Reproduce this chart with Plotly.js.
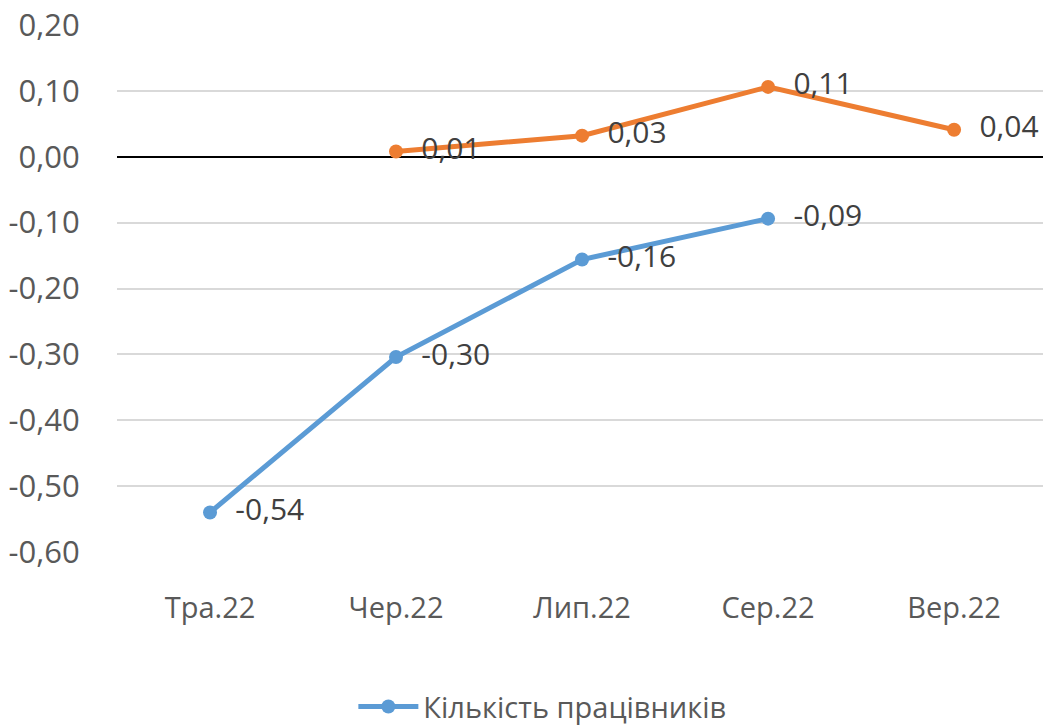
<!DOCTYPE html>
<html>
<head>
<meta charset="utf-8">
<script src="https://cdn.plot.ly/plotly-3.0.1.min.js"></script>
<style>html,body{margin:0;padding:0;background:#fff;}#chart{width:1043px;height:727px;}</style>
</head>
<body>
<div id="chart"></div>
<script>
const categories = ["Тра.22", "Чер.22", "Лип.22", "Сер.22", "Вер.22"];
const blueName = "Кількість працівників";
const blueX = ["Тра.22", "Чер.22", "Лип.22", "Сер.22"];
const blueY = [-0.54, -0.304, -0.156, -0.094];
const orangeX = ["Чер.22", "Лип.22", "Сер.22", "Вер.22"];
const orangeY = [0.008, 0.032, 0.106, 0.041];
const yTicks = [0.2, 0.1, 0, -0.1, -0.2, -0.3, -0.4, -0.5, -0.6];

const fmt = v => v.toFixed(2).replace(".", ",").replace("-0,00", "0,00");
const FONT = "Open Sans, Noto Sans, sans-serif";
const NB = "\u00a0\u00a0";
const traces = [
  {
    x: blueX, y: blueY, name: blueName, type: "scatter", mode: "lines+markers+text",
    line: {color: "#5B9BD5", width: 5}, marker: {color: "#5B9BD5", size: 14},
    text: blueY.map(v => NB + fmt(v)), textposition: "middle right",
    textfont: {family: FONT, size: 30, color: "#404040"}, cliponaxis: false
  },
  {
    x: orangeX, y: orangeY, name: "Серія 2", type: "scatter", mode: "lines+markers+text",
    line: {color: "#ED7D31", width: 5}, marker: {color: "#ED7D31", size: 14},
    text: orangeY.map(v => NB + fmt(v)), textposition: "middle right",
    textfont: {family: FONT, size: 30, color: "#404040"}, cliponaxis: false,
    showlegend: false
  }
];
const layout = {
  width: 1043, height: 727,
  separators: ", ",
  margin: {l: 117, r: 0, t: 25, b: 175},
  paper_bgcolor: "#fff", plot_bgcolor: "#fff",
  font: {family: FONT, color: "#595959", size: 29},
  xaxis: {
    type: "category", categoryorder: "array", categoryarray: categories,
    range: [-0.5, 4.478], showgrid: false, showline: false, zeroline: false,
    ticks: "outside", ticklen: 30, tickcolor: "rgba(0,0,0,0)",
    tickfont: {family: FONT, size: 29, color: "#595959"}
  },
  yaxis: {
    range: [-0.6, 0.2], tickvals: yTicks, ticktext: yTicks.map(fmt),
    showgrid: true, gridcolor: "#d9d9d9", gridwidth: 2,
    zeroline: true, zerolinecolor: "#000", zerolinewidth: 2,
    showline: false, ticks: "outside", ticklen: 30, tickcolor: "rgba(0,0,0,0)",
    tickfont: {family: FONT, size: 31, color: "#595959"}
  },
  showlegend: true,
  legend: {
    orientation: "h", xref: "container", yref: "container",
    x: 0.52, xanchor: "center", y: 0.028, yanchor: "middle",
    itemwidth: 60,
    font: {family: FONT, size: 29, color: "#595959"}
  }
};
Plotly.newPlot("chart", traces, layout, {displayModeBar: false, staticPlot: true});
</script>
</body>
</html>
